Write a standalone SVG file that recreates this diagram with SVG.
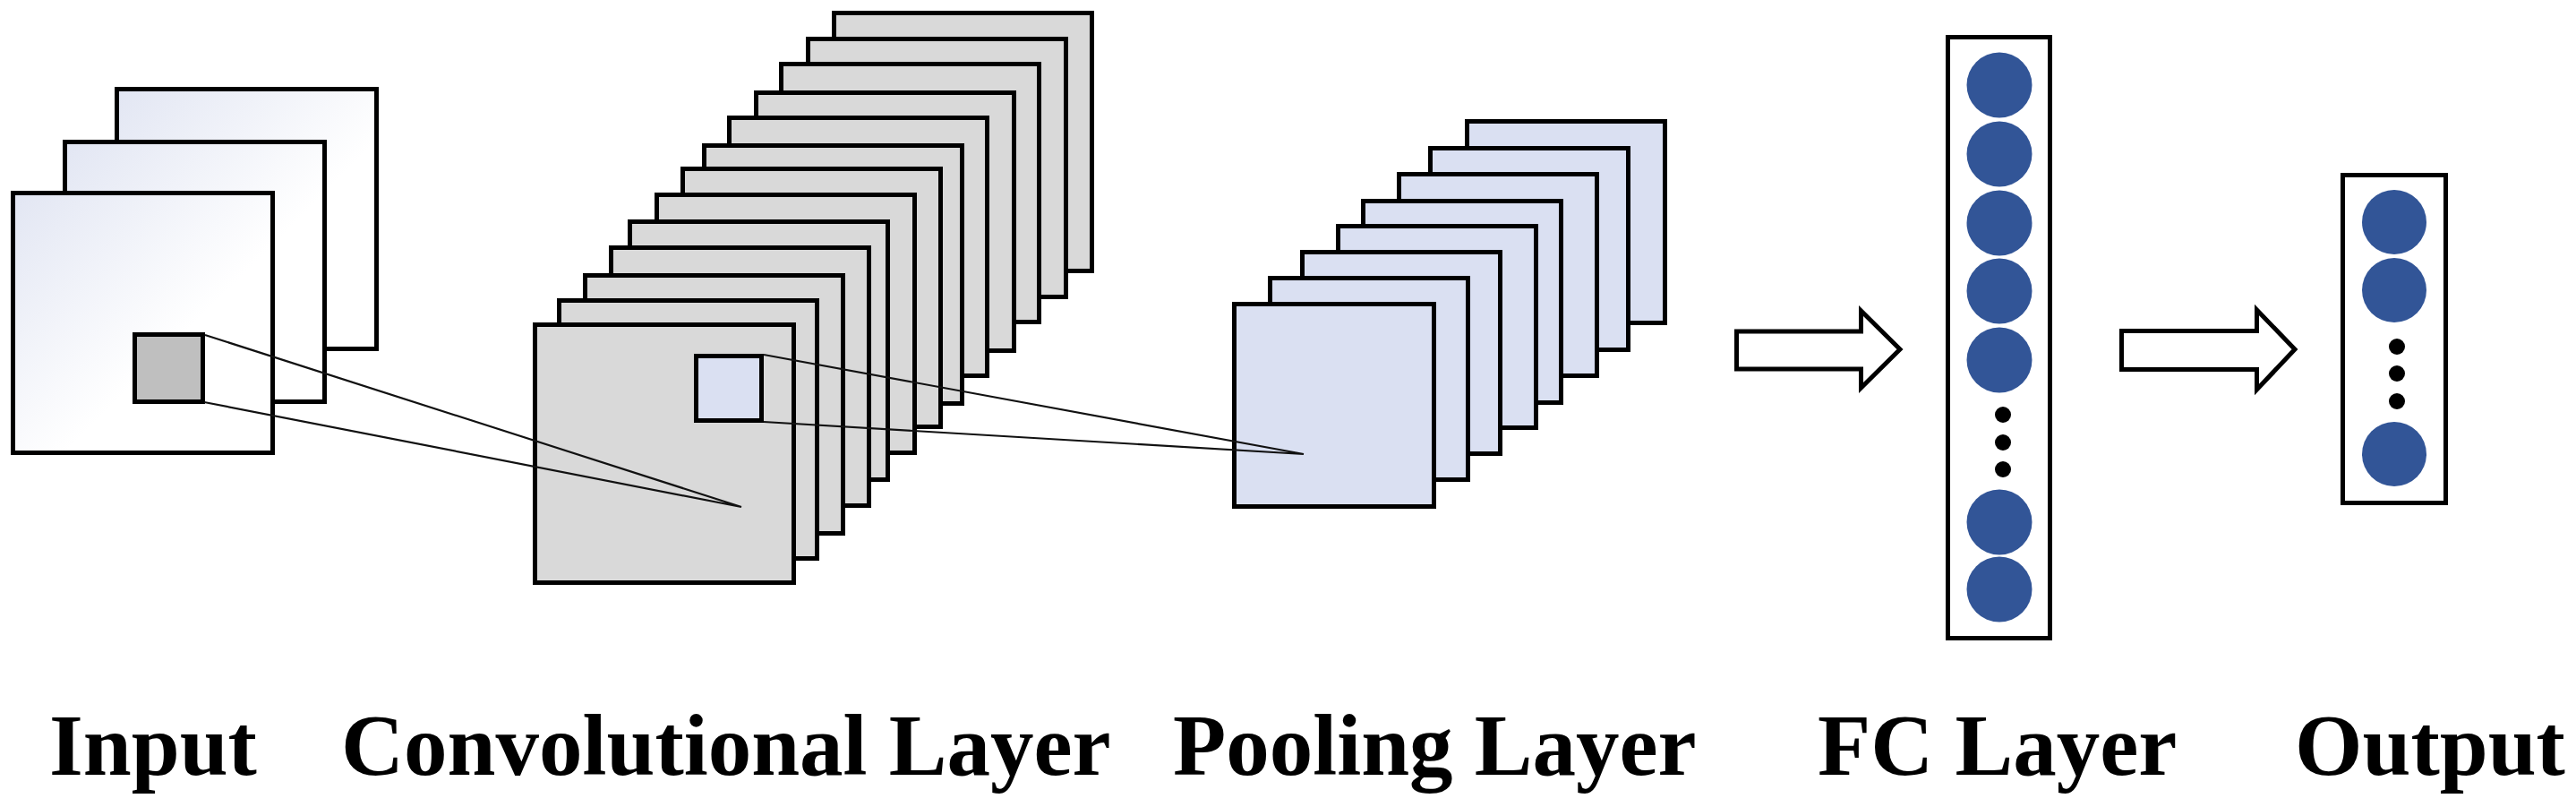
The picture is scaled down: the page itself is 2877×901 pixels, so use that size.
<svg xmlns="http://www.w3.org/2000/svg" width="2877" height="901" viewBox="0 0 2877 901">
<style>
.inp{fill:url(#ig);stroke:#000;stroke-width:5}
.conv{fill:#d9d9d9;stroke:#000;stroke-width:5}
.pool{fill:#dae0f2;stroke:#000;stroke-width:5}
.box{fill:#fff;stroke:#000;stroke-width:5}
.neu{fill:#325597}
.dot{fill:#000}
.arr{fill:#fff;stroke:#000;stroke-width:5;stroke-linejoin:miter}
.ln{stroke:#111;stroke-width:2.2;fill:none}
.lbl{font-family:"Liberation Serif","Times New Roman",serif;font-weight:bold;font-size:97px;fill:#000}
</style>
<defs>
<linearGradient id="ig" x1="0" y1="0" x2="1" y2="1">
<stop offset="0" stop-color="#e2e6f3"/>
<stop offset="0.6" stop-color="#ffffff"/>
<stop offset="1" stop-color="#ffffff"/>
</linearGradient>
</defs>
<rect width="2877" height="901" fill="#fff"/>
<g id="input">
<rect class="inp" x="130.5" y="99.5" width="290" height="290"/>
<rect class="inp" x="72.5" y="158.5" width="290" height="290"/>
<rect class="inp" x="14.5" y="215.5" width="290" height="290"/>
<rect x="150.5" y="373.5" width="76" height="75" fill="#bfbfbf" stroke="#000" stroke-width="5"/>
</g>
<g id="conv">
<rect class="conv" x="931.5" y="14.5" width="288" height="288"/>
<rect class="conv" x="902.5" y="43.5" width="288" height="288"/>
<rect class="conv" x="872.5" y="71.5" width="288" height="288"/>
<rect class="conv" x="844.5" y="103.5" width="288" height="288"/>
<rect class="conv" x="814.5" y="131.5" width="288" height="288"/>
<rect class="conv" x="786.5" y="162.5" width="288" height="288"/>
<rect class="conv" x="762.5" y="188.5" width="288" height="288"/>
<rect class="conv" x="733.5" y="217.5" width="288" height="288"/>
<rect class="conv" x="703.5" y="247.5" width="288" height="288"/>
<rect class="conv" x="682.5" y="276.5" width="288" height="288"/>
<rect class="conv" x="653.5" y="307.5" width="288" height="288"/>
<rect class="conv" x="624.5" y="335.5" width="288" height="288"/>
<rect class="conv" x="597.5" y="362.5" width="289" height="288"/>
<rect x="777.5" y="397.5" width="73" height="72" fill="#dae0f2" stroke="#000" stroke-width="5"/>
</g>
<g id="pool">
<rect class="pool" x="1638.5" y="135.5" width="221" height="225"/>
<rect class="pool" x="1597.5" y="165.5" width="221" height="225"/>
<rect class="pool" x="1562.5" y="194.5" width="221" height="225"/>
<rect class="pool" x="1522.5" y="224.5" width="221" height="225"/>
<rect class="pool" x="1494.5" y="252.5" width="221" height="225"/>
<rect class="pool" x="1454.5" y="281.5" width="221" height="225"/>
<rect class="pool" x="1418.5" y="310.5" width="221" height="225"/>
<rect class="pool" x="1378.5" y="339.5" width="223" height="226"/>
</g>
<g id="connectors">
<path class="ln" d="M229,374 L828,566 M228,449 L828,566"/>
<path class="ln" d="M853,396 L1456,507 M853,471 L1456,507"/>
<polygon class="arr" points="1939.5,370 2078.5,370 2078.5,347 2122,390 2078.5,433 2078.5,412 1939.5,412"/>
<polygon class="arr" points="2369.5,369.5 2520.5,369.5 2520.5,346 2563,390 2520.5,435 2520.5,412.5 2369.5,412.5"/>
</g>
<g id="fc">
<rect class="box" x="2175.5" y="41.5" width="114" height="671"/>
<circle class="neu" cx="2233" cy="95" r="36.5"/>
<circle class="neu" cx="2233" cy="172" r="36.5"/>
<circle class="neu" cx="2233" cy="249" r="36.5"/>
<circle class="neu" cx="2233" cy="325" r="36.5"/>
<circle class="neu" cx="2233" cy="402" r="36.5"/>
<circle class="dot" cx="2237" cy="463" r="9"/>
<circle class="dot" cx="2237" cy="494" r="9"/>
<circle class="dot" cx="2237" cy="524" r="9"/>
<circle class="neu" cx="2233" cy="583" r="36.5"/>
<circle class="neu" cx="2233" cy="658" r="36.5"/>
</g>
<g id="output">
<rect class="box" x="2616.5" y="195.5" width="115" height="366"/>
<circle class="neu" cx="2674" cy="248" r="36"/>
<circle class="neu" cx="2674" cy="324" r="36"/>
<circle class="dot" cx="2677" cy="387" r="9"/>
<circle class="dot" cx="2677" cy="417" r="9"/>
<circle class="dot" cx="2677" cy="448" r="9"/>
<circle class="neu" cx="2674" cy="507" r="36"/>
</g>
<g id="labels">
<text class="lbl" x="55" y="865">Input</text>
<text class="lbl" x="381" y="865">Convolutional Layer</text>
<text class="lbl" x="1310" y="865">Pooling Layer</text>
<text class="lbl" x="2030" y="865">FC Layer</text>
<text class="lbl" x="2563" y="865">Output</text>
</g>
</svg>
